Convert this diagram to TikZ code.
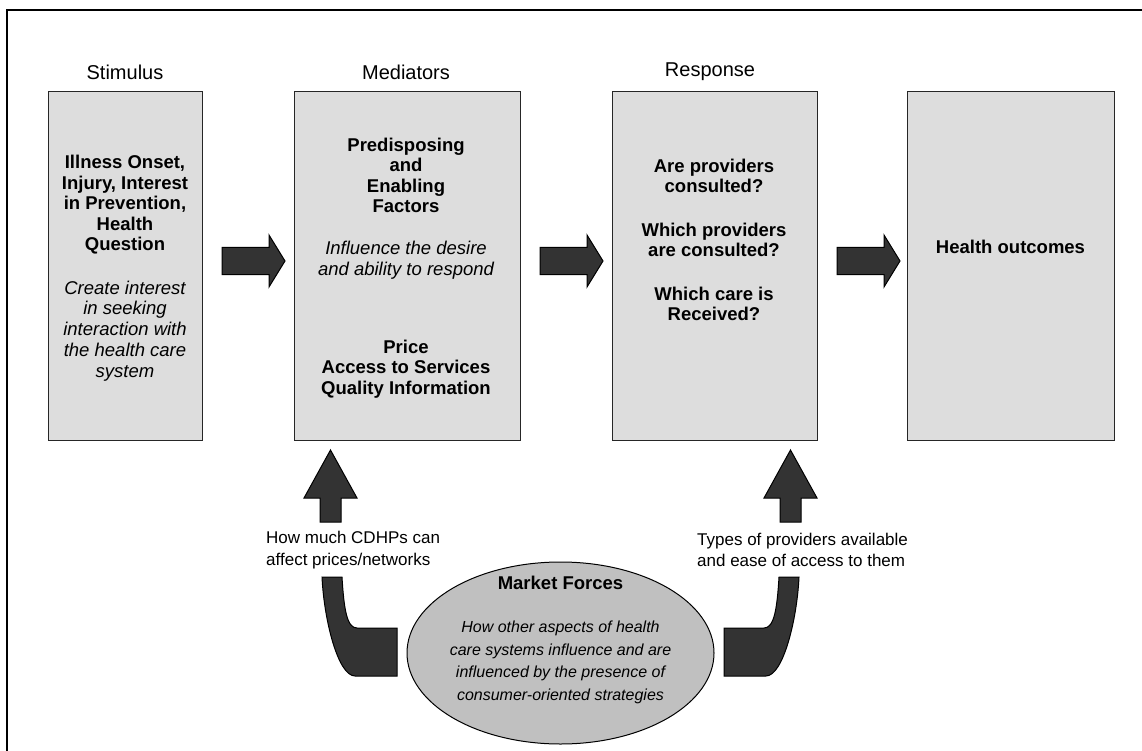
\documentclass[tikz,border=0pt]{standalone}
\usepackage{fontspec}
\setmainfont{Liberation Sans}
\usetikzlibrary{shapes.geometric}
\definecolor{boxgray}{HTML}{DDDDDD}
\definecolor{ellgray}{HTML}{C0C0C0}
\definecolor{arrowgray}{HTML}{333333}
\begin{document}
\begin{tikzpicture}[x=1pt,y=-1pt,
  stagebox/.style={draw=black!85, line width=1.2pt, fill=boxgray, minimum height=349pt, inner sep=0pt, anchor=north west},
  headtxt/.style={font=\fontsize{20}{22}\selectfont, inner sep=0pt},
  boldtxt/.style={font=\fontsize{18.5}{20.5}\selectfont\bfseries, align=center, inner sep=0pt},
  itxt/.style={font=\fontsize{18.5}{20.8}\selectfont\itshape, align=center, inner sep=0pt},
  lbl/.style={font=\fontsize{17}{21.5}\selectfont, align=left, inner sep=0pt, anchor=west},
  blockarrow/.style={draw=black, line width=1pt, fill=arrowgray, line join=miter},
  pics/rarrow/.style={code={\draw[blockarrow] (0,-13.5) -- (47,-13.5) -- (47,-26) -- (63,0) -- (47,26) -- (47,13.5) -- (0,13.5) -- cycle;}},
  pics/uarrow/.style={code={\draw[blockarrow] (0,0) -- (26.5,48) -- (10.5,48) -- (10.5,72) -- (-10.5,72) -- (-10.5,48) -- (-26.5,48) -- cycle;}}
]
\useasboundingbox (0,0) rectangle (1142,751);
% outer frame
\coordinate (fbl) at (7,752);
\coordinate (ftl) at (7,10);
\coordinate (ftr) at (1143,10);
\draw[line width=2pt] (fbl) -- (ftl) -- (ftr);

% headers
\node[headtxt] (hstim) at (125,72) {Stimulus};
\node[headtxt] (hmed) at (406,72) {Mediators};
\node[headtxt] (hresp) at (710,72) {Response};

% boxes
\node[stagebox, minimum width=154pt] (stim) at (48,91) {};
\node[stagebox, minimum width=226pt] (med) at (294,91) {};
\node[stagebox, minimum width=205pt] (resp) at (612,91) {};
\node[stagebox, minimum width=207pt] (out) at (907,91) {};

% stimulus text
\node[boldtxt] (stimA) at (125,205) {Illness Onset,\\Injury, Interest\\in Prevention,\\Health\\Question};
\node[itxt] (stimB) at (125,331) {Create interest\\in seeking\\interaction with\\the health care\\system};

% mediators text
\node[boldtxt] (medA) at (406,175.5) {Predisposing\\and\\Enabling\\Factors};
\node[itxt] (medB) at (406,260) {Influence the desire\\and ability to respond};
\node[boldtxt] (medC) at (406,369) {Price\\Access to Services\\Quality Information};

% response text
\node[boldtxt] (respA) at (714,176) {Are providers\\consulted?};
\node[boldtxt] (respB) at (714,240) {Which providers\\are consulted?};
\node[boldtxt] (respC) at (714,304) {Which care is\\Received?};

% outcomes
\node[boldtxt] (outA) at (1010.5,247) {Health outcomes};

% horizontal block arrows
\pic (ar1) at (222,261) {rarrow};
\pic (ar2) at (540,261) {rarrow};
\pic (ar3) at (837,261) {rarrow};

% vertical block arrows
\pic (up1) at (330.5,450) {uarrow};
\pic (up2) at (790.5,450) {uarrow};

% labels
\node[lbl] (lblL) at (266,550) {How much CDHPs can\\affect prices/networks};
\node[lbl] (lblR) at (697,550) {Types of providers available\\and ease of access to them};

% market forces ellipse
\node[draw=black, line width=1pt, ellipse, fill=ellgray, minimum width=307pt, minimum height=182pt, inner sep=0pt] (mf) at (560.5,653) {};
\node[boldtxt] (mfA) at (560.5,583) {Market Forces};
\node[font=\fontsize{16}{22.7}\selectfont\itshape, align=center, inner sep=0pt] (mfB) at (560.5,662.5) {How other aspects of health\\care systems influence and are\\influenced by the presence of\\consumer-oriented strategies};

% bent arrows
\draw[blockarrow] (322,577) -- (342,577) .. controls (344,610) and (347,628) .. (357,628) -- (397,628) -- (397,676) -- (355,676) .. controls (338,676) and (324,620) .. (322,577) -- cycle;
\draw[blockarrow] (799,577) -- (779,577) .. controls (777,610) and (774,628) .. (764,628) -- (724,628) -- (724,676) -- (766,676) .. controls (783,676) and (797,620) .. (799,577) -- cycle;
\end{tikzpicture}
\end{document}
